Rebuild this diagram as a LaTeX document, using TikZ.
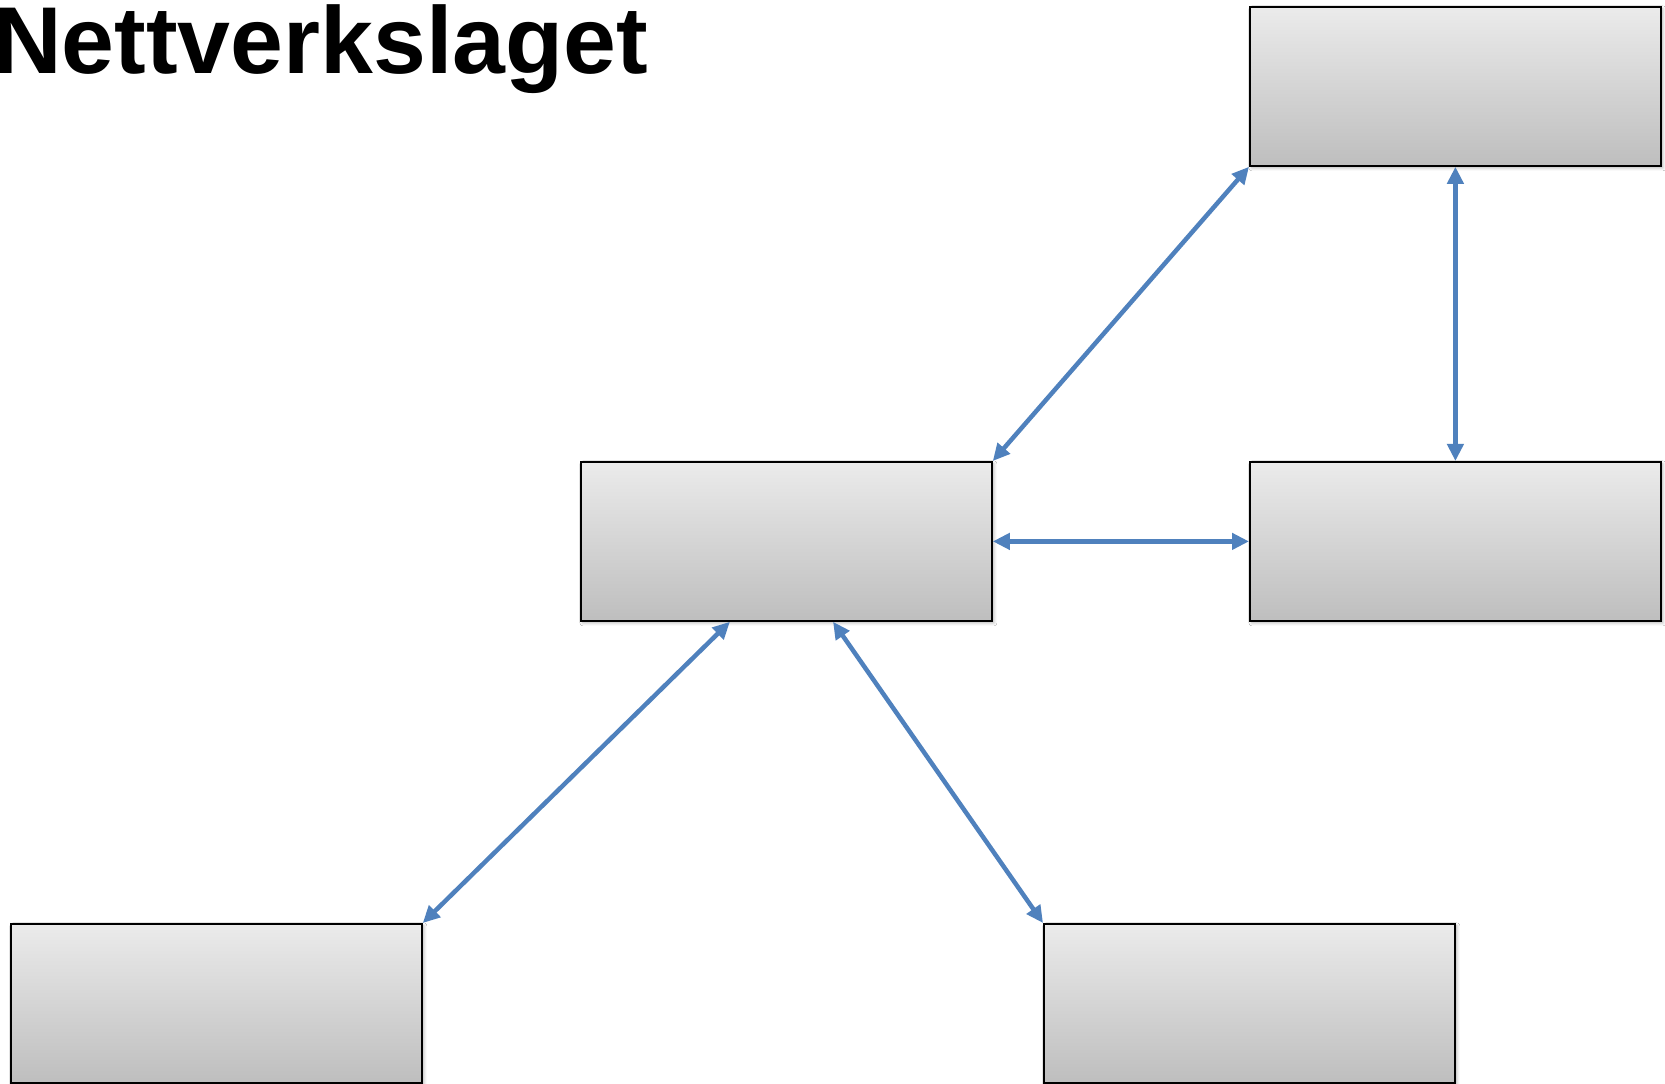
\documentclass[tikz,border=0pt]{standalone}
\usepackage{fontspec}
\setmainfont{Liberation Sans}
\usetikzlibrary{arrows.meta,calc,shadows.blur}
\definecolor{arrowblue}{HTML}{4F81BD}
\definecolor{boxtop}{HTML}{EBEBEB}
\definecolor{boxbot}{HTML}{BEBEBE}
\tikzset{
  box/.style={draw=black, line width=1.8pt, minimum width=411pt, minimum height=159pt,
    inner sep=0pt, anchor=north west, top color=boxtop, bottom color=boxbot,
    blur shadow={shadow xshift=2pt, shadow yshift=-2pt, shadow opacity=30, shadow blur radius=3pt}},
  link/.style={draw=arrowblue, line width=4.5pt,
    {Triangle[length=17pt,width=16pt]}-{Triangle[length=17pt,width=16pt]}}
}
\begin{document}
\begin{tikzpicture}[x=1pt,y=1pt]
\useasboundingbox (0,0) rectangle (1665,1084);
\fill[white] (0,0) rectangle (1665,1084);
\node[anchor=base west, inner sep=0pt, font=\bfseries\fontsize{95}{95}\selectfont] (title) at (-7,1010) {Nettverkslaget};
\node[box] (TR) at (1249,1078) {};
\node[box] (M) at (580,623) {};
\node[box] (RM) at (1249,623) {};
\node[box] (BL) at (10,161) {};
\node[box] (BR) at (1043,161) {};
\coordinate (Mb1) at ($(M.south west)!0.363!(M.south east)$);
\coordinate (Mb2) at ($(M.south west)!0.613!(M.south east)$);
\draw[link] (M.north east) -- (TR.south west);
\draw[link] (TR.south) -- (RM.north);
\draw[link] (M.east) -- (RM.west);
\draw[link] (Mb1) -- (BL.north east);
\draw[link] (Mb2) -- (BR.north west);
\end{tikzpicture}
\end{document}
